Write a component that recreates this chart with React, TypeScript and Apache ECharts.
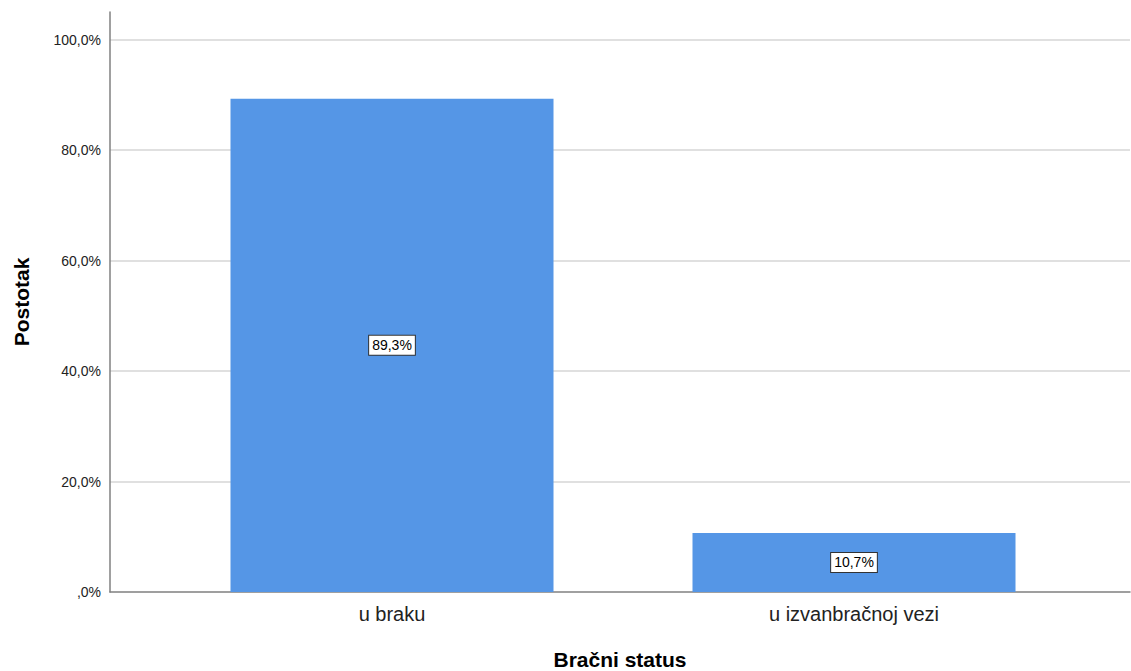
import React, { useEffect, useRef } from "react";
import * as echarts from "echarts";

const categories = ["u braku", "u izvanbračnoj vezi"];
const percentages = [89.3, 10.7];
const yTickValues = [0, 20, 40, 60, 80, 100];
const xAxisTitle = "Bračni status";
const yAxisTitle = "Postotak";

const FONT = "'Liberation Sans', Arial, sans-serif";

const fmtPct = (v: number) => {
  if (v === 0) return ",0%";
  return v.toFixed(1).replace(".", ",") + "%";
};

export default function App() {
  const ref = useRef<HTMLDivElement>(null);

  useEffect(() => {
    if (!ref.current) return;
    const chart = echarts.init(ref.current, undefined, { renderer: "svg" });
    const yMax = 105;
    const option: any = {
      animation: false,
      backgroundColor: "#ffffff",
      textStyle: { fontFamily: FONT },
      grid: [
        { left: 110, right: 1, top: 12, bottom: 79, containLabel: false, outerBoundsMode: "none" },
        { left: 161, right: 46, top: 12, bottom: 79, containLabel: false, outerBoundsMode: "none" },
      ],
      xAxis: [
        {
          type: "value",
          gridIndex: 0,
          min: 0,
          max: 1,
          axisLine: { show: true, lineStyle: { color: "#808080", width: 1.5 } },
          axisTick: { show: false },
          axisLabel: { show: false },
          splitLine: { show: false },
          name: xAxisTitle,
          nameLocation: "middle",
          nameGap: 57,
          nameTextStyle: {
            fontFamily: FONT,
            fontSize: 21,
            fontWeight: "bold",
            color: "#000",
          },
        },
        {
          type: "category",
          gridIndex: 1,
          data: categories,
          axisLine: { show: false },
          axisTick: { show: false },
          axisLabel: {
            fontFamily: FONT,
            fontSize: 20,
            color: "#222",
            margin: 12,
          },
        },
      ],
      yAxis: [
        {
          type: "value",
          gridIndex: 0,
          min: 0,
          max: yMax,
          interval: 20,
          axisLine: { show: true, lineStyle: { color: "#808080", width: 1.5 } },
          axisTick: { show: false },
          axisLabel: {
            fontFamily: FONT,
            fontSize: 14,
            color: "#222",
            margin: 9,
            showMaxLabel: false,
            formatter: (v: number) => (yTickValues.includes(v) ? fmtPct(v) : ""),
          },
          splitLine: {
            show: true,
            showMinLine: false,
            showMaxLine: false,
            lineStyle: { color: "#d6d6d6", width: 1.5 },
          },
          name: yAxisTitle,
          nameLocation: "middle",
          nameGap: 78,
          nameTextStyle: {
            fontFamily: FONT,
            fontSize: 21,
            fontWeight: "bold",
            color: "#000",
          },
        },
        {
          type: "value",
          gridIndex: 1,
          min: 0,
          max: yMax,
          show: false,
        },
      ],
      series: [
        {
          type: "bar",
          xAxisIndex: 1,
          yAxisIndex: 1,
          data: percentages,
          barWidth: 323,
          itemStyle: { color: "#5596e6" },
          label: {
            show: true,
            position: "inside",
            formatter: (p: any) => fmtPct(p.value),
            fontFamily: FONT,
            fontSize: 14,
            color: "#000",
            backgroundColor: "#ffffff",
            borderColor: "#333",
            borderWidth: 1,
            padding: [3, 3, 2, 3],
          },
        },
      ],
    };
    chart.setOption(option);
    return () => chart.dispose();
  }, []);

  return (
    <div
      ref={ref}
      style={{ position: "fixed", left: 0, top: 0, width: 1131, height: 671 }}
    />
  );
}
